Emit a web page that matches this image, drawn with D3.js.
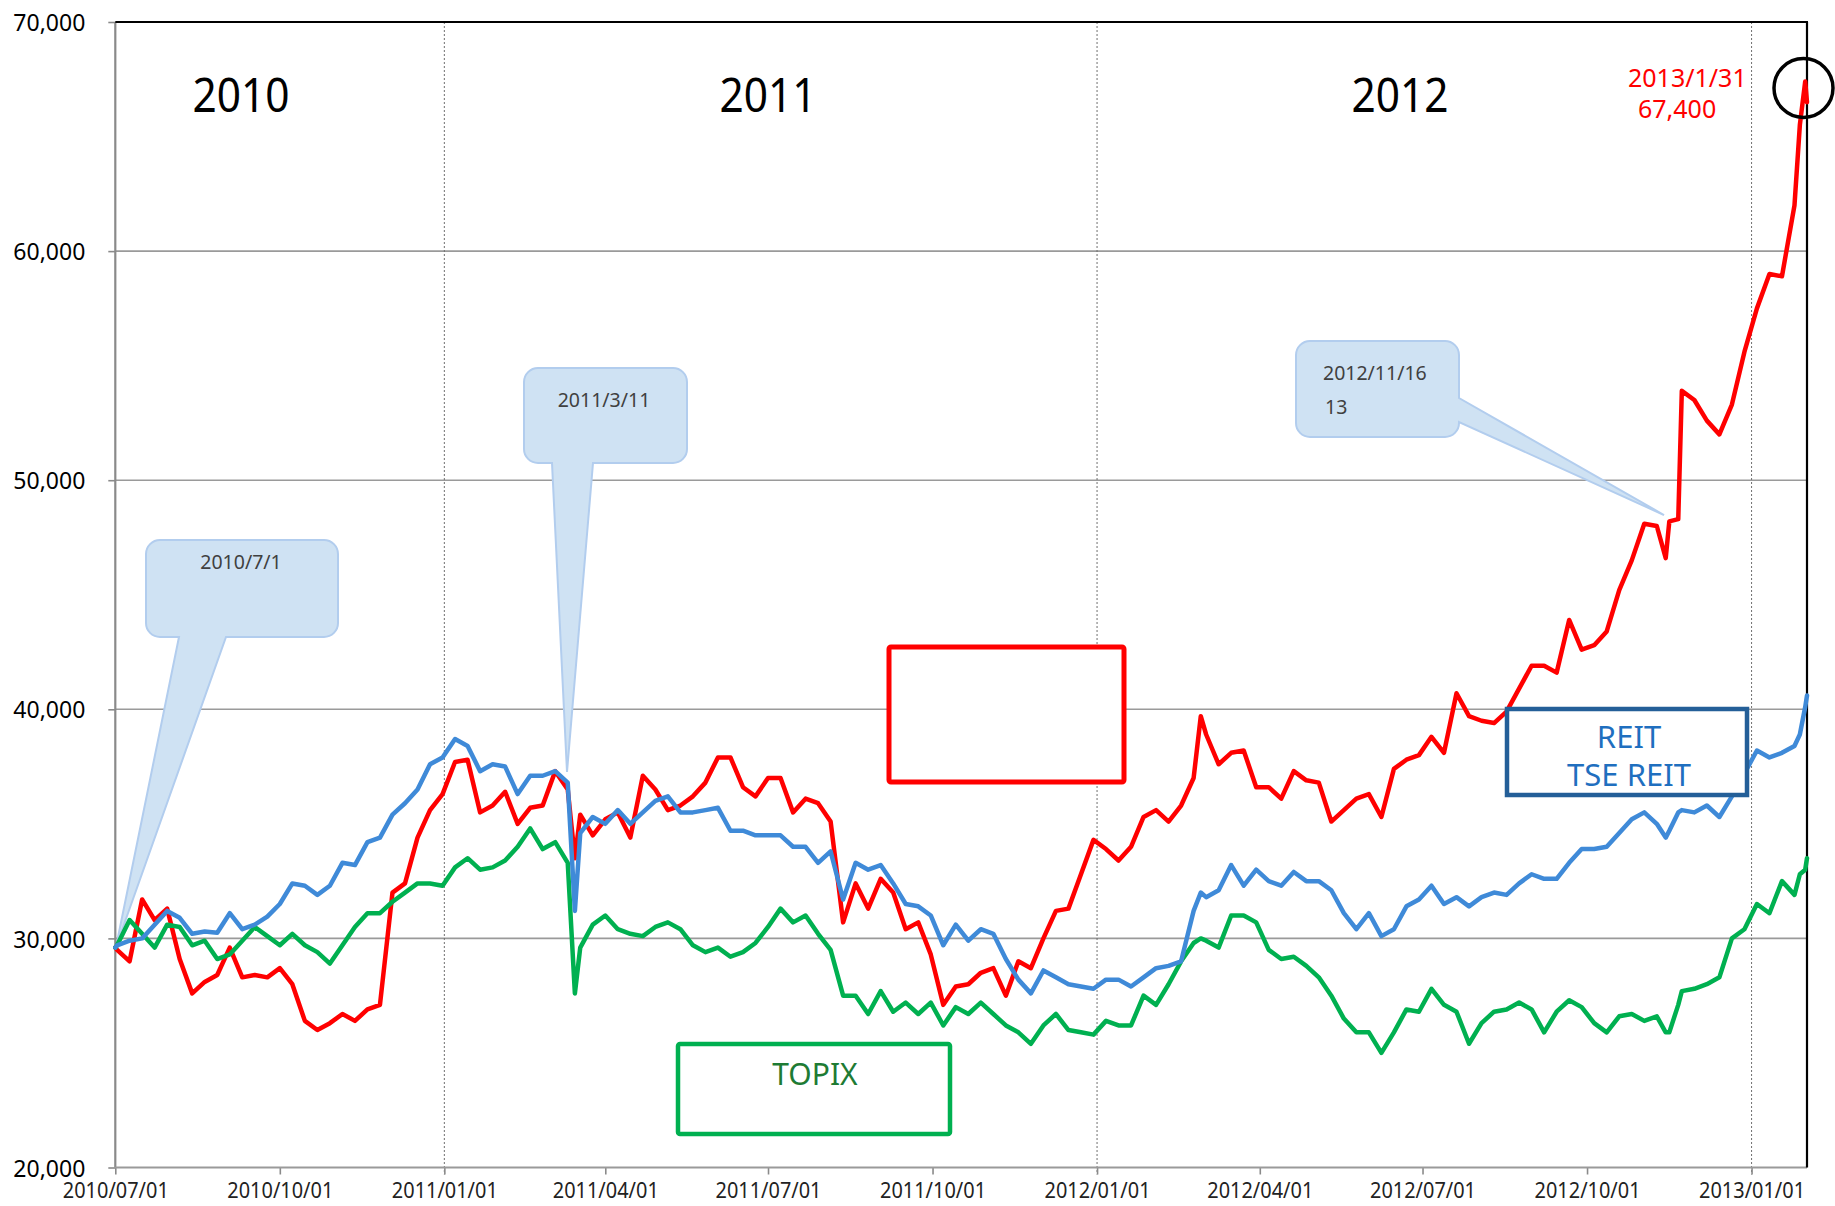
<!DOCTYPE html>
<html><head><meta charset="utf-8">
<script src="https://cdn.jsdelivr.net/npm/d3@7"></script>
<style>
html,body{margin:0;padding:0;background:#fff;}
svg{display:block;font-family:"Noto Sans","Open Sans",sans-serif;}
</style></head><body>
<svg id="chart" width="1835" height="1206"></svg>
<script>
// ---- data ----
const dates = [
 "2010-07-01","2010-07-02","2010-07-09","2010-07-16","2010-07-23","2010-07-30",
 "2010-08-06","2010-08-13","2010-08-20","2010-08-27",
 "2010-09-03","2010-09-10","2010-09-17","2010-09-24",
 "2010-10-01","2010-10-08","2010-10-15","2010-10-22","2010-10-29",
 "2010-11-05","2010-11-12","2010-11-19","2010-11-26",
 "2010-12-03","2010-12-10","2010-12-17","2010-12-24","2010-12-31",
 "2011-01-07","2011-01-14","2011-01-21","2011-01-28",
 "2011-02-04","2011-02-11","2011-02-18","2011-02-25",
 "2011-03-04","2011-03-11","2011-03-15","2011-03-18","2011-03-25",
 "2011-04-01","2011-04-08","2011-04-15","2011-04-22","2011-04-29",
 "2011-05-06","2011-05-13","2011-05-20","2011-05-27",
 "2011-06-03","2011-06-10","2011-06-17","2011-06-24",
 "2011-07-01","2011-07-08","2011-07-15","2011-07-22","2011-07-29",
 "2011-08-05","2011-08-12","2011-08-19","2011-08-26",
 "2011-09-02","2011-09-09","2011-09-16","2011-09-23","2011-09-30",
 "2011-10-07","2011-10-14","2011-10-21","2011-10-28",
 "2011-11-04","2011-11-11","2011-11-18","2011-11-25",
 "2011-12-02","2011-12-09","2011-12-16","2011-12-23","2011-12-30",
 "2012-01-06","2012-01-13","2012-01-20","2012-01-27",
 "2012-02-03","2012-02-10","2012-02-17","2012-02-24","2012-02-28",
 "2012-03-02","2012-03-09","2012-03-16","2012-03-23","2012-03-30",
 "2012-04-06","2012-04-13","2012-04-20","2012-04-27",
 "2012-05-04","2012-05-11","2012-05-18","2012-05-25",
 "2012-06-01","2012-06-08","2012-06-15","2012-06-22","2012-06-29",
 "2012-07-06","2012-07-13","2012-07-20","2012-07-27",
 "2012-08-03","2012-08-10","2012-08-17","2012-08-24","2012-08-31",
 "2012-09-07","2012-09-14","2012-09-21","2012-09-28",
 "2012-10-05","2012-10-12","2012-10-19","2012-10-26",
 "2012-11-02","2012-11-09","2012-11-14","2012-11-16","2012-11-21","2012-11-23","2012-11-30",
 "2012-12-07","2012-12-14","2012-12-21","2012-12-28",
 "2013-01-04","2013-01-11","2013-01-18","2013-01-25","2013-01-28","2013-01-31",
 "2013-02-01"
];
// red: REIT unit price (yen)
const reitPrice = [
 29600,29500,29000,31700,30800,31300,
 29100,27600,28100,28400,
 29600,28300,28400,28300,
 28700,28000,26400,26000,26300,
 26700,26400,26900,27100,
 32000,32400,34400,35600,36300,
 37700,37800,35500,35800,
 36400,35000,35700,35800,
 37300,36500,33500,35400,34500,
 35200,35500,34400,37100,36500,
 35600,35800,36200,36800,
 37900,37900,36600,36200,
 37000,37000,35500,36100,35900,
 35100,30700,32400,31300,
 32600,32000,30400,30700,29300,
 27100,27900,28000,28500,
 28700,27500,29000,28700,
 30000,31200,31300,32800,34300,
 33900,33400,34000,35300,
 35600,35100,35800,37000,39700,
 38900,37600,38100,38200,36600,
 36600,36100,37300,36900,
 36800,35100,35600,36100,
 36300,35300,37400,37800,38000,
 38800,38100,40700,39700,
 39500,39400,39900,40900,41900,
 41900,41600,43900,42600,
 42800,43400,45200,46500,
 48100,48000,46600,48200,48300,53900,53500,
 52600,52000,53300,55600,
 57500,59000,58900,62000,65500,67400,
 66500
];
// blue: TSE REIT index (rebased)
const tseReit = [
 29600,29700,29900,30000,30600,31200,
 30900,30200,30300,30250,
 31100,30400,30600,30950,
 31500,32400,32300,31900,32300,
 33300,33200,34200,34400,
 35400,35900,36500,37600,37900,
 38700,38400,37300,37600,
 37500,36300,37100,37100,
 37300,36800,31200,34600,35300,
 35000,35600,35000,35500,36000,
 36200,35500,35500,35600,
 35700,34700,34700,34500,
 34500,34500,34000,34000,33300,
 33800,31700,33300,33000,
 33200,32400,31500,31400,31000,
 29700,30600,29900,30400,
 30200,29100,28200,27600,
 28600,28300,28000,27900,27800,
 28200,28200,27900,28300,
 28700,28800,29000,31200,32000,
 31800,32100,33200,32300,33000,
 32500,32300,32900,32500,
 32500,32100,31100,30400,
 31100,30100,30400,31400,31700,
 32300,31500,31800,31400,
 31800,32000,31900,32400,32800,
 32600,32600,33300,33900,
 33900,34000,34600,35200,
 35500,35000,34400,34700,35500,35600,35500,
 35800,35300,36200,37200,
 38200,37900,38100,38400,38900,40100,
 40600
];
// green: TOPIX (rebased)
const topix = [
 29600,29700,30800,30200,29600,30600,
 30500,29700,29900,29100,
 29300,29900,30500,30100,
 29700,30200,29700,29400,28900,
 29700,30500,31100,31100,
 31600,32000,32400,32400,32300,
 33100,33500,33000,33100,
 33400,34000,34800,33900,
 34200,33300,27600,29600,30600,
 31000,30400,30200,30100,30500,
 30700,30400,29700,29400,
 29600,29200,29400,29800,
 30500,31300,30700,31000,30200,
 29500,27500,27500,26700,
 27700,26800,27200,26700,27200,
 26200,27000,26700,27200,
 26700,26200,25900,25400,
 26200,26700,26000,25900,25800,
 26400,26200,26200,27500,
 27100,28000,29000,29800,30000,
 29900,29600,31000,31000,30700,
 29500,29100,29200,28800,
 28300,27500,26500,25900,
 25900,25000,25900,26900,26800,
 27800,27100,26800,25400,
 26300,26800,26900,27200,26900,
 25900,26800,27300,27000,
 26300,25900,26600,26700,
 26400,26600,25900,25900,27100,27700,27800,
 28000,28300,30000,30400,
 31500,31100,32500,31900,32800,33000,
 33500
];
const yTickValues = [20000,30000,40000,50000,60000,70000];
const xTickLabels = ["2010/07/01","2010/10/01","2011/01/01","2011/04/01","2011/07/01","2011/10/01",
  "2012/01/01","2012/04/01","2012/07/01","2012/10/01","2013/01/01"];
const yearGridLabels = ["2011/01/01","2012/01/01","2013/01/01"];
const yearLabels = ["2010","2011","2012"];
const callouts = [
  {text:["2010/7/1"]},
  {text:["2011/3/11"]},
  {text:["2012/11/16","13"]}
];
const peakLabel = ["2013/1/31","67,400"];
const boxLabels = {reit:["REIT","TSE REIT"], topix:"TOPIX"};

// ---- drawing ----
const svg = d3.select("#chart");
const parse = d3.timeParse("%Y-%m-%d");
const parseTick = d3.timeParse("%Y/%m/%d");
const L = 115.3, R = 1807, T = 22, B = 1167.5;
const x = d3.scaleTime().domain([parse("2010-07-01"), parse("2013-02-01")]).range([L, R]);
const y = d3.scaleLinear().domain([20000, 70000]).range([B, T]);

if (!(dates.length===reitPrice.length && dates.length===tseReit.length && dates.length===topix.length)) {
  svg.append("text").attr("x",400).attr("y",300).attr("font-size",30).attr("fill","magenta")
     .text(`LEN MISMATCH ${dates.length} ${reitPrice.length} ${tseReit.length} ${topix.length}`);
}

// horizontal gridlines
svg.append("g").selectAll("line").data(yTickValues.filter(v=>v>20000 && v<70000)).join("line")
  .attr("x1", L).attr("x2", R).attr("y1", d=>y(d)).attr("y2", d=>y(d))
  .attr("stroke","#9a9a9a").attr("stroke-width",1.6);

// vertical dotted year lines
svg.append("g").selectAll("line").data(yearGridLabels.map(parseTick)).join("line")
  .attr("x1", d=>x(d)).attr("x2", d=>x(d)).attr("y1", T).attr("y2", B+7)
  .attr("stroke","#6f6f6f").attr("stroke-width",1).attr("stroke-dasharray","2,2");

// callouts (under the lines)
function calloutBottom(x0,y0,x1,y1,r,bx0,bx1,tx,ty){
  return `M${x0+r},${y0}H${x1-r}A${r},${r} 0 0 1 ${x1},${y0+r}V${y1-r}A${r},${r} 0 0 1 ${x1-r},${y1}`+
         `H${bx1}L${tx},${ty}L${bx0},${y1}H${x0+r}A${r},${r} 0 0 1 ${x0},${y1-r}V${y0+r}A${r},${r} 0 0 1 ${x0+r},${y0}Z`;
}
function calloutRight(x0,y0,x1,y1,r,by0,by1,tx,ty){
  return `M${x0+r},${y0}H${x1-r}A${r},${r} 0 0 1 ${x1},${y0+r}V${by0}L${tx},${ty}L${x1},${by1}V${y1-r}`+
         `A${r},${r} 0 0 1 ${x1-r},${y1}H${x0+r}A${r},${r} 0 0 1 ${x0},${y1-r}V${y0+r}A${r},${r} 0 0 1 ${x0+r},${y0}Z`;
}
const cg = svg.append("g");
const cFill = "#cfe2f3", cStroke = "#b2cdee";
cg.append("path").attr("d", calloutBottom(146,540,338,637,14,179,226,116,947))
  .attr("fill",cFill).attr("stroke",cStroke).attr("stroke-width",2);
cg.append("path").attr("d", calloutBottom(524,368,687,463,14,552,593,567,772))
  .attr("fill",cFill).attr("stroke",cStroke).attr("stroke-width",2);
cg.append("path").attr("d", calloutRight(1296,341,1459,437,14,398,422,1664,515))
  .attr("fill",cFill).attr("stroke",cStroke).attr("stroke-width",2);
cg.append("text").attr("x",241).attr("y",569).attr("text-anchor","middle").attr("font-size",19.5)
  .attr("fill","#404040").text(callouts[0].text[0]);
cg.append("text").attr("x",604).attr("y",407).attr("text-anchor","middle").attr("font-size",19.5)
  .attr("fill","#404040").text(callouts[1].text[0]);
cg.append("text").attr("x",1323).attr("y",380).attr("font-size",19.5)
  .attr("fill","#404040").text(callouts[2].text[0]);
cg.append("text").attr("x",1325).attr("y",414).attr("font-size",19.5)
  .attr("fill","#404040").text(callouts[2].text[1]);

// axes
const yAxis = d3.axisLeft(y).tickValues(yTickValues).tickSize(7).tickPadding(23).tickFormat(d3.format(","));
const gy = svg.append("g").attr("transform",`translate(${L},0)`).call(yAxis);
gy.select(".domain").remove();
gy.selectAll(".tick line").attr("stroke","#8a8a8a").attr("stroke-width",1.6);
gy.selectAll(".tick text").attr("font-size",24).attr("fill","#000").attr("font-family","Noto Sans")
  .attr("textLength",72).attr("lengthAdjust","spacingAndGlyphs").attr("dy","0.36em");

const xAxis = d3.axisBottom(x).tickValues(xTickLabels.map(parseTick)).tickSize(7).tickPadding(9)
  .tickFormat(d3.timeFormat("%Y/%m/%d"));
const gx = svg.append("g").attr("transform",`translate(0,${B})`).call(xAxis);
gx.select(".domain").remove();
gx.selectAll(".tick line").attr("stroke","#8a8a8a").attr("stroke-width",1.6);
gx.selectAll(".tick text").attr("font-size",21).attr("fill","#222").attr("font-family","Noto Sans")
  .attr("textLength",106).attr("lengthAdjust","spacingAndGlyphs");

// frame
svg.append("line").attr("x1",L).attr("x2",L).attr("y1",T).attr("y2",B).attr("stroke","#8a8a8a").attr("stroke-width",2.2);
svg.append("line").attr("x1",L).attr("x2",R).attr("y1",B).attr("y2",B).attr("stroke","#9a9a9a").attr("stroke-width",2.2);
svg.append("line").attr("x1",L).attr("x2",R+1).attr("y1",T).attr("y2",T).attr("stroke","#000").attr("stroke-width",2.2);
svg.append("line").attr("x1",R).attr("x2",R).attr("y1",T).attr("y2",B).attr("stroke","#000").attr("stroke-width",2.2);

// series
const parsedDates = dates.map(parse);
const line = d3.line().x((d,i)=>x(parsedDates[i])).y(d=>y(d));
const series = [
  {vals: reitPrice, color:"#ff0000"},
  {vals: topix, color:"#00b050"},
  {vals: tseReit, color:"#3f8ad8"}
];
svg.append("g").selectAll("path").data(series).join("path")
  .attr("d", d=>line(d.vals)).attr("fill","none").attr("stroke",d=>d.color)
  .attr("stroke-width",4.5).attr("stroke-linejoin","round").attr("stroke-linecap","round");

// year labels
const yearPos = [241, 768, 1400];
svg.append("g").selectAll("text").data(yearLabels).join("text")
  .attr("x",(d,i)=>yearPos[i]).attr("y",112).attr("text-anchor","middle")
  .attr("font-size",47).attr("fill","#000").attr("textLength",97).attr("lengthAdjust","spacingAndGlyphs")
  .text(d=>d);

// peak annotation
svg.append("text").attr("x",1628).attr("y",87).attr("font-size",25).attr("fill","#ff0000").text(peakLabel[0]);
svg.append("text").attr("x",1638).attr("y",118).attr("font-size",25).attr("fill","#ff0000").text(peakLabel[1]);
svg.append("circle").attr("cx",1803.5).attr("cy",88).attr("r",29.5).attr("fill","none")
  .attr("stroke","#000").attr("stroke-width",3.5);

// boxes
svg.append("rect").attr("x",889).attr("y",647).attr("width",235).attr("height",135).attr("rx",2)
  .attr("fill","#fff").attr("stroke","#ff0000").attr("stroke-width",5);
svg.append("rect").attr("x",1507).attr("y",709).attr("width",240).attr("height",86)
  .attr("fill","#fff").attr("stroke","#245f98").attr("stroke-width",4.5);
svg.append("text").attr("x",1629).attr("y",748).attr("text-anchor","middle").attr("font-size",31)
  .attr("fill","#1f6fbf").text(boxLabels.reit[0]);
svg.append("text").attr("x",1629).attr("y",786).attr("text-anchor","middle").attr("font-size",31)
  .attr("fill","#1f6fbf").text(boxLabels.reit[1]);
svg.append("rect").attr("x",678).attr("y",1044).attr("width",272).attr("height",90).attr("rx",2)
  .attr("fill","#fff").attr("stroke","#00b050").attr("stroke-width",4.5);
svg.append("text").attr("x",815).attr("y",1085).attr("text-anchor","middle").attr("font-size",30)
  .attr("fill","#1e7b34").text(boxLabels.topix);
</script>
</body></html>
